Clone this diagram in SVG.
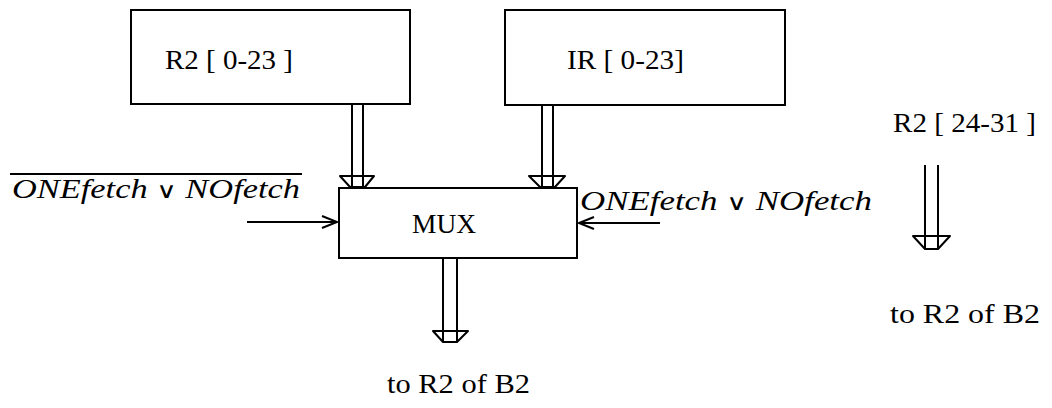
<svg xmlns="http://www.w3.org/2000/svg" width="1052" height="408" viewBox="0 0 1052 408">
<style>
.box{fill:#fff;stroke:#000;stroke-width:2}
.ln{fill:none;stroke:#000;stroke-width:2}
.hd{fill:#fff;stroke:#000;stroke-width:2;stroke-linejoin:round}
.t{font-family:"Liberation Serif","Times New Roman",serif;font-size:27px;fill:#000}
.m{font-family:"Liberation Serif","Times New Roman",serif;font-size:27px;font-style:italic;fill:#000}
.op{font-family:"DejaVu Serif","Liberation Serif",serif;font-style:normal;font-size:22px}
</style>
<rect width="1052" height="408" fill="#fff"/>
<g id="node-r2">
<rect class="box" x="131" y="10" width="279" height="94"/>
<text class="t" x="165" y="69" textLength="128" lengthAdjust="spacingAndGlyphs">R2 [ 0-23 ]</text>
</g>
<g id="node-ir">
<rect class="box" x="505" y="10" width="280" height="95"/>
<text class="t" x="567" y="69" textLength="117" lengthAdjust="spacingAndGlyphs">IR [ 0-23]</text>
</g>
<g id="node-mux">
<rect class="box" x="339" y="188" width="238" height="70"/>
<text class="t" x="412" y="233" textLength="64" lengthAdjust="spacingAndGlyphs">MUX</text>
</g>
<g id="label-r2-hi">
<text class="t" x="893" y="132" textLength="143" lengthAdjust="spacingAndGlyphs">R2 [ 24-31 ]</text>
</g>
<g id="label-left">
<line class="ln" x1="10" y1="174" x2="302" y2="174" stroke-width="1.5"/>
<text class="m" x="12" y="198" textLength="288" lengthAdjust="spacingAndGlyphs">ONEfetch <tspan class="op">∨</tspan> NOfetch</text>
</g>
<g id="label-right">
<text class="m" x="580" y="210" textLength="292" lengthAdjust="spacingAndGlyphs">ONEfetch <tspan class="op">∨</tspan> NOfetch</text>
</g>
<g id="label-out-mux">
<text class="t" x="387" y="393" textLength="143" lengthAdjust="spacingAndGlyphs">to R2 of B2</text>
</g>
<g id="label-out-right">
<text class="t" x="890" y="323" textLength="150" lengthAdjust="spacingAndGlyphs">to R2 of B2</text>
</g>
<g id="connectors">
<line class="ln" x1="352" y1="104" x2="352" y2="187"/>
<line class="ln" x1="363" y1="104" x2="363" y2="187"/>
<polygon class="hd" points="340,176 374,176 365,187 350,187"/>
<line class="ln" x1="352" y1="176" x2="352" y2="187"/>
<line class="ln" x1="363" y1="176" x2="363" y2="187"/>
<line class="ln" x1="542" y1="105" x2="542" y2="187"/>
<line class="ln" x1="553" y1="105" x2="553" y2="187"/>
<polygon class="hd" points="529,176 565,176 555,187 540,187"/>
<line class="ln" x1="542" y1="176" x2="542" y2="187"/>
<line class="ln" x1="553" y1="176" x2="553" y2="187"/>
<line class="ln" x1="443" y1="258" x2="443" y2="342"/>
<line class="ln" x1="457" y1="258" x2="457" y2="342"/>
<polygon class="hd" points="433,331 468,331 457,342 443,342"/>
<line class="ln" x1="443" y1="331" x2="443" y2="342"/>
<line class="ln" x1="457" y1="331" x2="457" y2="342"/>
<line class="ln" x1="925" y1="165" x2="925" y2="249"/>
<line class="ln" x1="938" y1="165" x2="938" y2="249"/>
<polygon class="hd" points="913,236 950,236 938,249 925,249"/>
<line class="ln" x1="925" y1="236" x2="925" y2="249"/>
<line class="ln" x1="938" y1="236" x2="938" y2="249"/>
<line class="ln" x1="247" y1="222" x2="337" y2="222"/>
<polyline class="ln" points="322,216 337,222 322,228"/>
<line class="ln" x1="660" y1="223" x2="579" y2="223"/>
<polyline class="ln" points="594,217 579,223 594,229"/>
</g>
</svg>
